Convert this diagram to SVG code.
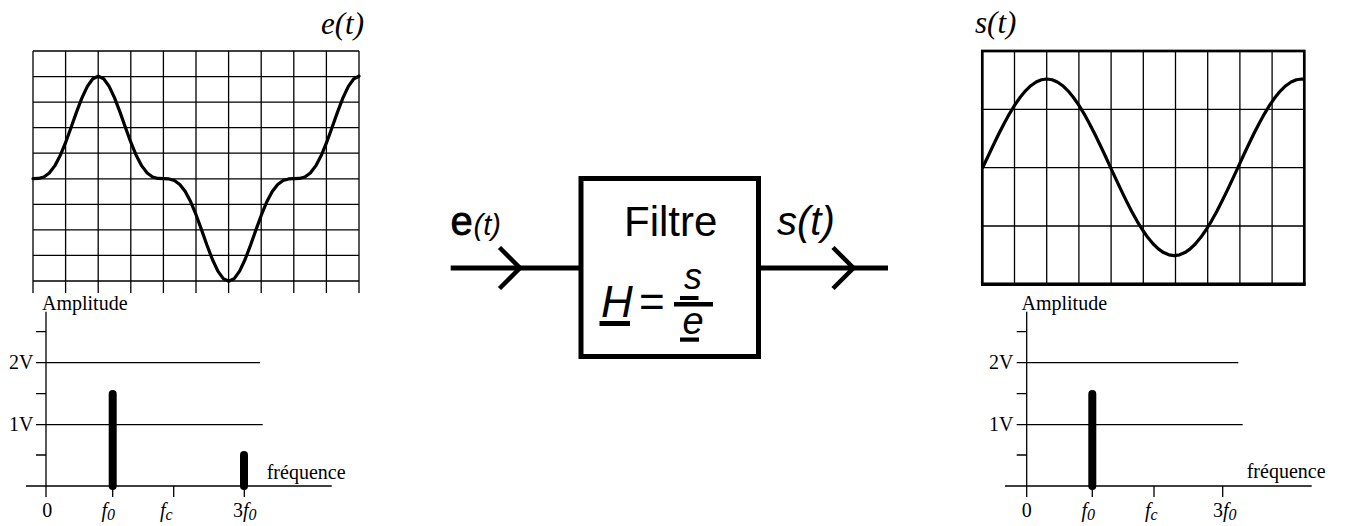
<svg xmlns="http://www.w3.org/2000/svg" width="1345" height="526" viewBox="0 0 1345 526">
<style>
.grid{fill:none;stroke:#000;stroke-width:1.3}
.curve{fill:none;stroke:#000;stroke-width:3.2;stroke-linejoin:round;stroke-linecap:round}
.ax{fill:none;stroke:#000;stroke-width:1.3}
.bar{stroke:#000;stroke-width:8;stroke-linecap:round}
.tm{font-family:"Liberation Serif","Times New Roman",serif;font-size:20px;fill:#000}
.ti{font-family:"Liberation Serif","Times New Roman",serif;font-style:italic;fill:#000}
.ar{font-family:"Liberation Sans",Arial,sans-serif;fill:#000}
.wire{fill:none;stroke:#000;stroke-width:5}
.chev{fill:none;stroke:#000;stroke-width:4.5;stroke-linecap:butt;stroke-linejoin:miter}
</style>
<rect width="1345" height="526" fill="#fff"/>

<g id="input-signal">
<path class="grid" d="M33,51H359M33,76.56H359M33,102.11H359M33,127.67H359M33,153.22H359M33,178.78H359M33,204.33H359M33,229.89H359M33,255.44H359M33,281H359
M33,51V293M65.6,51V293M98.2,51V293M130.8,51V293M163.4,51V293M196,51V293M228.6,51V293M261.2,51V293M293.8,51V293M326.4,51V293M359,51V293"/>
<polyline class="curve" points="33,178.7 38.44,178.47 43.88,176.92 49.31,172.96 54.75,165.89 60.19,155.58 65.63,142.46 71.06,127.52 76.5,112.12 81.94,97.87 87.38,86.32 92.81,78.81 98.25,76.2 103.69,78.81 109.13,86.32 114.56,97.87 120,112.12 125.44,127.52 130.88,142.46 136.31,155.58 141.75,165.89 147.19,172.96 152.63,176.92 158.06,178.47 163.5,178.7 168.94,178.93 174.38,180.48 179.81,184.44 185.25,191.51 190.69,201.82 196.13,214.94 201.56,229.88 207,245.28 212.44,259.53 217.88,271.08 223.31,278.59 228.75,281.2 234.19,278.59 239.63,271.08 245.06,259.53 250.5,245.28 255.94,229.88 261.38,214.94 266.81,201.82 272.25,191.51 277.69,184.44 283.13,180.48 288.56,178.93 294,178.7 299.44,178.47 304.88,176.92 310.31,172.96 315.75,165.89 321.19,155.58 326.63,142.46 332.06,127.52 337.5,112.12 342.94,97.87 348.38,86.32 353.81,78.81 359,76.2"/>
<text class="ti" x="364" y="34" font-size="31" text-anchor="end">e(t)</text>
</g>

<g id="input-spectrum">
<path class="ax" d="M46,311.7V490M26,486H331.7M36,331.7H46M36,362.7H260M36,393.7H46M36,424.7H262.7M36,455H46M46,486V497M112.7,486V497M173.7,486V497M244.3,486V497"/>
<line class="bar" x1="112.7" y1="394" x2="112.7" y2="486"/>
<line class="bar" x1="244" y1="455" x2="244" y2="486"/>
<text class="tm" x="42" y="310">Amplitude</text>
<text class="tm" x="33.5" y="369" text-anchor="end">2V</text>
<text class="tm" x="33.5" y="430.7" text-anchor="end">1V</text>
<text class="tm" x="47.3" y="516.7" text-anchor="middle">0</text>
<text class="tm" x="101.5" y="516.7"><tspan class="ti">f</tspan><tspan class="ti" font-size="16" dy="3">0</tspan></text>
<text class="tm" x="160" y="516.7"><tspan class="ti">f</tspan><tspan class="ti" font-size="16" dy="3">c</tspan></text>
<text class="tm" x="233" y="516.7">3<tspan class="ti">f</tspan><tspan class="ti" font-size="16" dy="3">0</tspan></text>
<text class="tm" x="266.7" y="479.3">fréquence</text>
</g>

<g id="filter">
<rect x="581" y="178.5" width="177.5" height="178" fill="none" stroke="#000" stroke-width="5"/>
<text class="ar" x="624" y="236" font-size="42">Filtre</text>
<text class="ar" x="601" y="316.7" font-size="44" font-style="italic">H</text>
<text class="ar" x="639" y="316.7" font-size="44">=</text>
<rect x="599.5" y="321" width="30.5" height="5" fill="#000"/>
<text class="ar" x="693" y="289" font-size="36" font-style="italic" text-anchor="middle">s</text>
<rect x="680" y="296" width="18.5" height="4" fill="#000"/>
<rect x="674" y="302" width="39" height="4.5" fill="#000"/>
<text class="ar" x="693" y="333.5" font-size="38" font-style="italic" text-anchor="middle">e</text>
<rect x="680" y="337.5" width="19" height="4.2" fill="#000"/>
</g>

<g id="connectors">
<line class="wire" x1="450.7" y1="268" x2="581" y2="268"/>
<polyline class="chev" points="499.5,247.5 520,268 499.5,288.5"/>
<line class="wire" x1="758.5" y1="268" x2="888" y2="268"/>
<polyline class="chev" points="833,247.5 853.5,268 833,288.5"/>
<text class="ar" x="450.5" y="235" font-size="40" stroke="#000" stroke-width="0.8">e</text>
<text class="ar" x="473.5" y="235" font-size="29" font-style="italic">(t)</text>
<text class="ar" x="777" y="235" font-size="40" font-style="italic">s(t)</text>
</g>

<g id="output-signal">
<path class="grid" d="M982.3,109.3H1304.3M982.3,167.7H1304.3M982.3,226H1304.3
M1014.5,51V284.3M1046.7,51V284.3M1078.9,51V284.3M1111.1,51V284.3M1143.3,51V284.3M1175.5,51V284.3M1207.7,51V284.3M1239.9,51V284.3M1272.1,51V284.3"/>
<rect x="982.3" y="51" width="322" height="233.3" fill="none" stroke="#000" stroke-width="2.7"/>
<line x1="981" y1="284.3" x2="1305.6" y2="284.3" stroke="#000" stroke-width="3.6"/>
<polyline class="curve" points="982.8,167.3 988.31,155.77 993.63,144.45 998.94,133.51 1004.25,123.15 1009.56,113.55 1014.88,104.86 1020.19,97.25 1025.5,90.83 1030.81,85.72 1036.13,82.01 1041.44,79.76 1046.75,79 1052.06,79.76 1057.38,82.01 1062.69,85.72 1068,90.83 1073.31,97.25 1078.63,104.86 1083.94,113.55 1089.25,123.15 1094.56,133.51 1099.88,144.45 1105.19,155.77 1110.5,167.3 1115.81,178.83 1121.13,190.15 1126.44,201.09 1131.75,211.45 1137.06,221.05 1142.38,229.74 1147.69,237.35 1153,243.77 1158.31,248.88 1163.63,252.59 1168.94,254.84 1174.25,255.6 1179.56,254.84 1184.88,252.59 1190.19,248.88 1195.5,243.77 1200.81,237.35 1206.13,229.74 1211.44,221.05 1216.75,211.45 1222.06,201.09 1227.38,190.15 1232.69,178.83 1238,167.3 1243.31,155.77 1248.63,144.45 1253.94,133.51 1259.25,123.15 1264.56,113.55 1269.88,104.86 1275.19,97.25 1280.5,90.83 1285.81,85.72 1291.13,82.01 1296.44,79.76 1301.75,79 1303.5,79.1"/>
<text class="ti" x="975" y="33" font-size="31">s(t)</text>
</g>

<g id="output-spectrum">
<path class="ax" d="M1026.7,311.7V490M1005,486H1311.7M1016.7,331.7H1026.7M1016.7,362.7H1238.3M1016.7,393.7H1026.7M1016.7,424.7H1242.7M1016.7,455H1026.7M1026.7,486V497M1092.3,486V497M1154,486V497M1222.7,486V497"/>
<line class="bar" x1="1092.3" y1="394" x2="1092.3" y2="486"/>
<text class="tm" x="1021.5" y="310">Amplitude</text>
<text class="tm" x="1013.5" y="369" text-anchor="end">2V</text>
<text class="tm" x="1013.5" y="430.7" text-anchor="end">1V</text>
<text class="tm" x="1026.7" y="516.7" text-anchor="middle">0</text>
<text class="tm" x="1081.5" y="516.7"><tspan class="ti">f</tspan><tspan class="ti" font-size="16" dy="3">0</tspan></text>
<text class="tm" x="1145" y="516.7"><tspan class="ti">f</tspan><tspan class="ti" font-size="16" dy="3">c</tspan></text>
<text class="tm" x="1213" y="516.7">3<tspan class="ti">f</tspan><tspan class="ti" font-size="16" dy="3">0</tspan></text>
<text class="tm" x="1246.7" y="478.3">fréquence</text>
</g>
</svg>
